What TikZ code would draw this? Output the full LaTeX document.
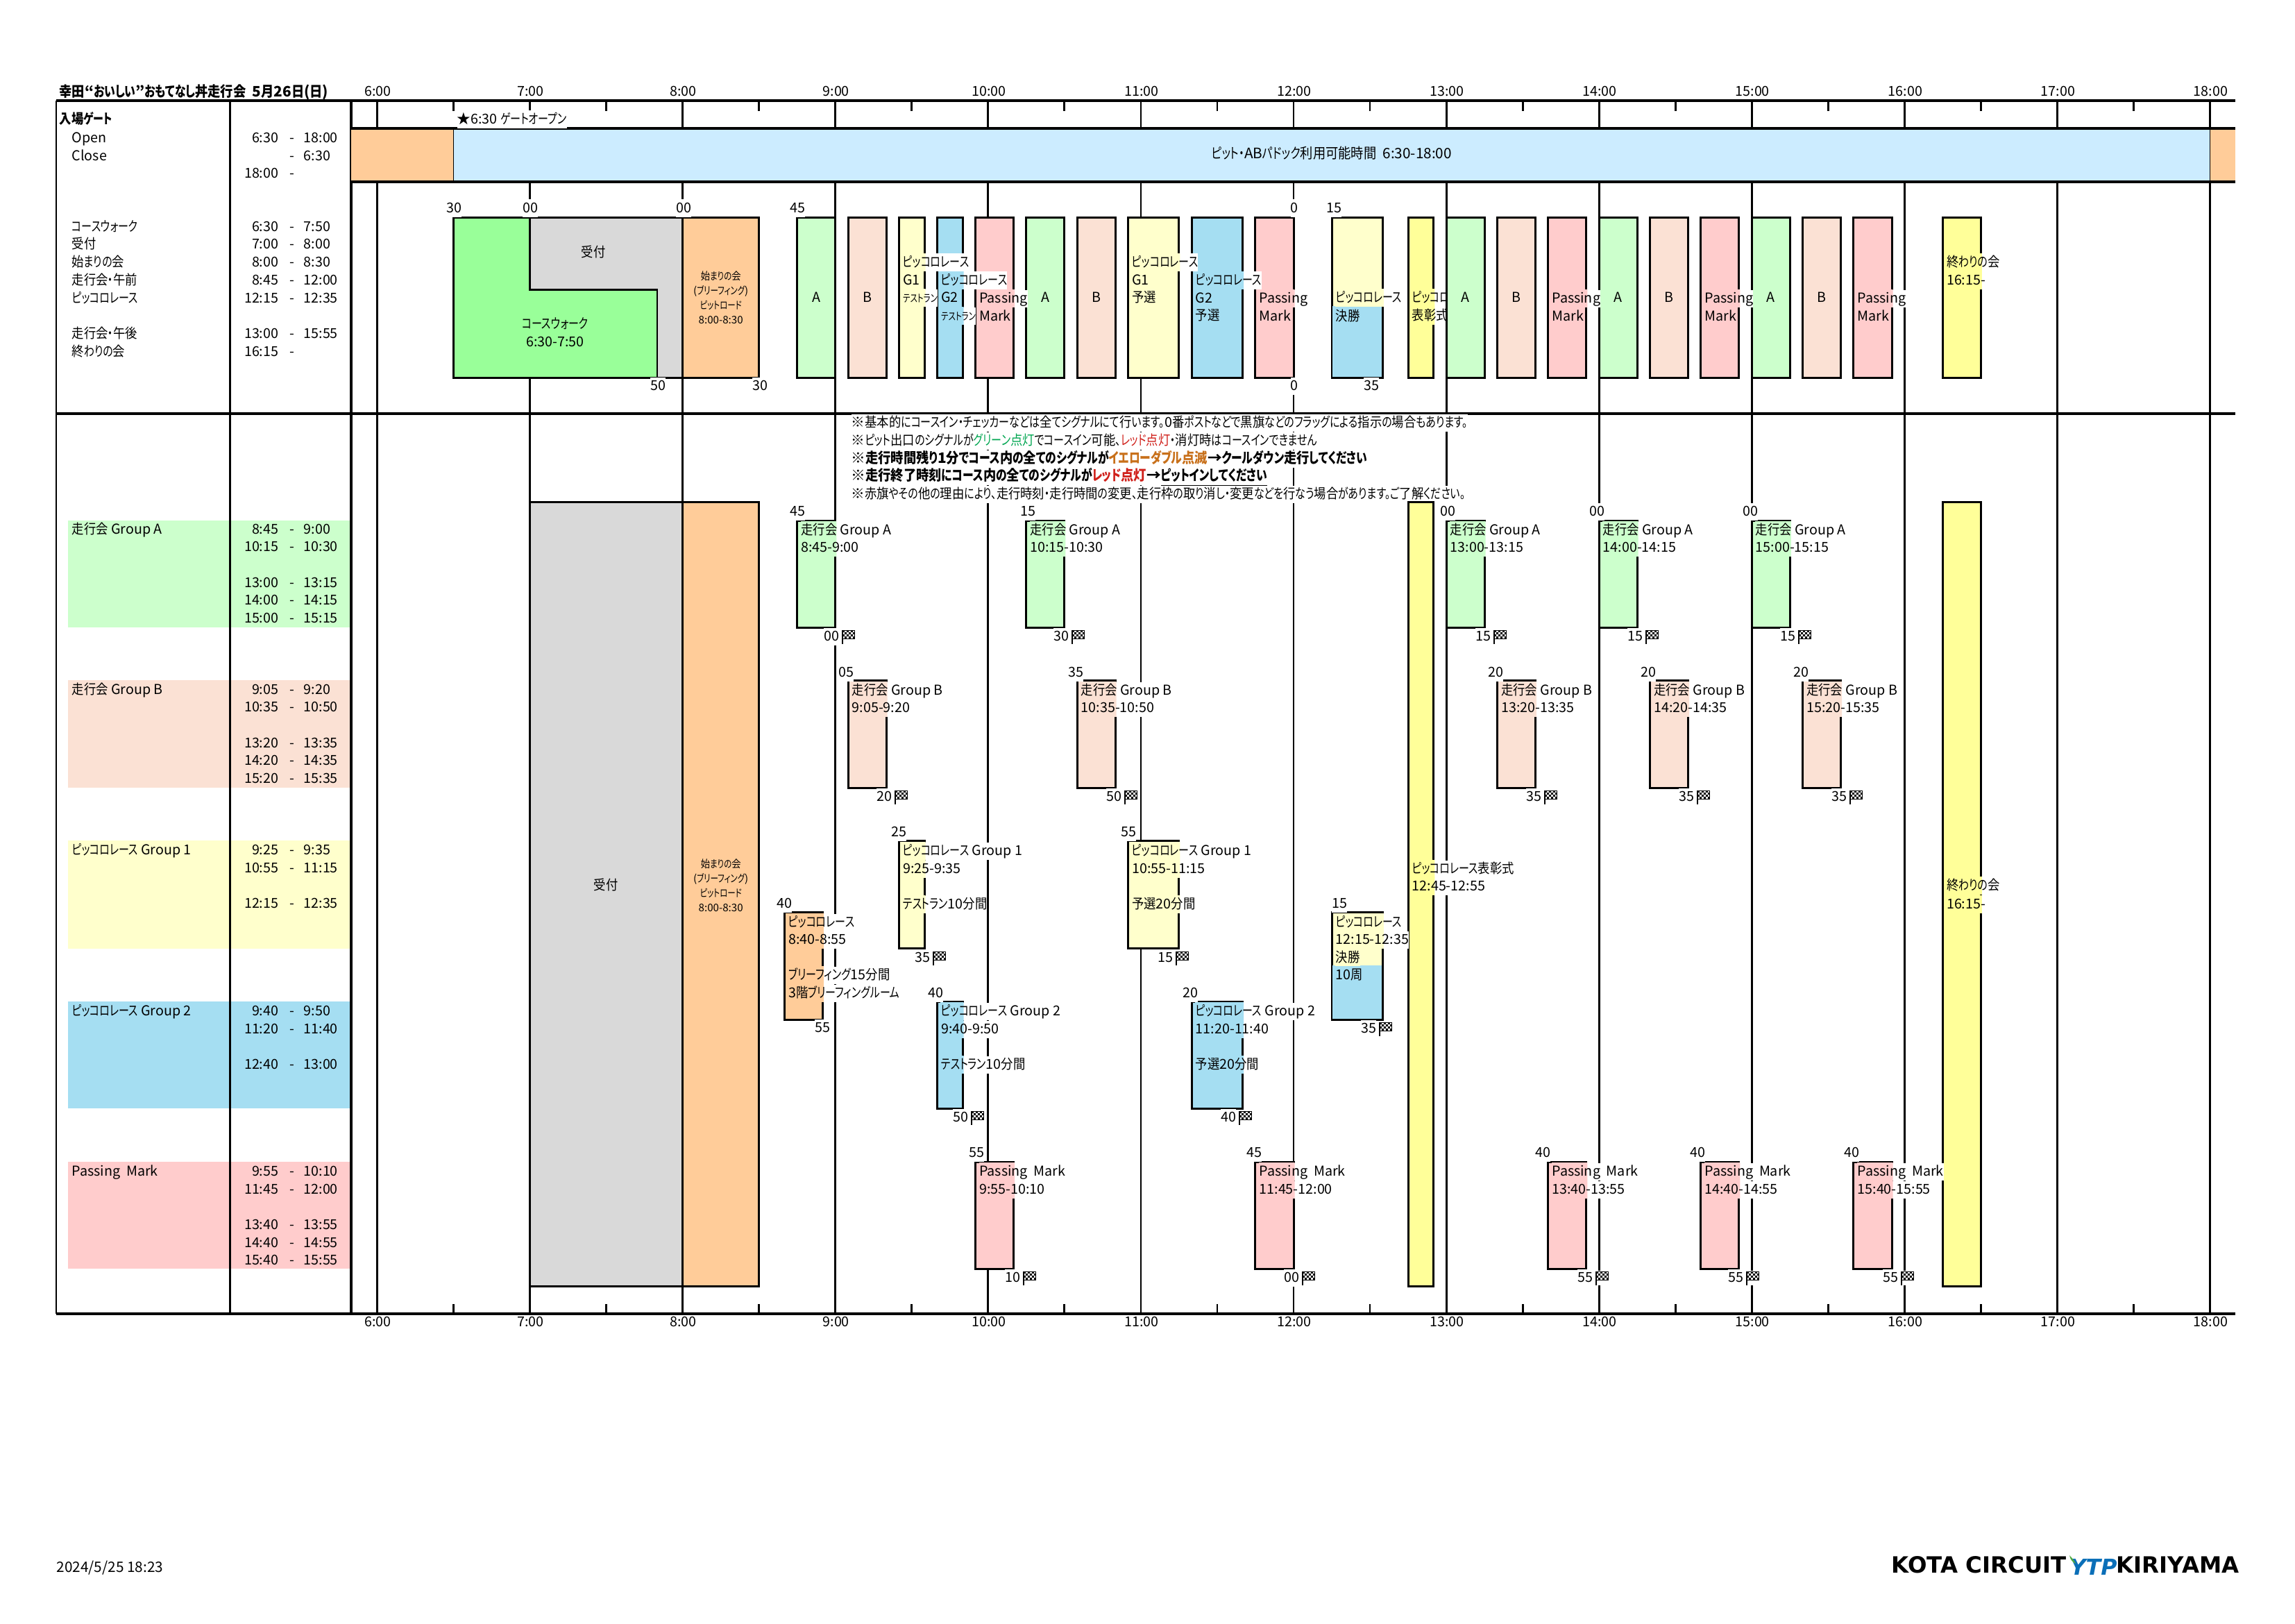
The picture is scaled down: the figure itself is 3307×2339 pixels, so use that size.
\documentclass[tikz,border=0pt]{standalone}
\usepackage{fontspec}
\setmainfont{Noto Sans CJK JP}[RawFeature={+palt}]
\newfontfamily\logofont{DejaVu Sans}
\newfontfamily\kanafont{Noto Sans CJK JP}[FakeStretch=0.76,RawFeature={+palt}]
\newfontfamily\kanjifont{Noto Sans CJK JP}[FakeStretch=0.88]
% kana and kanji are narrower than the digits and latin letters
\newXeTeXintercharclass\kanaclass
\newXeTeXintercharclass\kanjiclass
\newcount\chr
\chr="3040 \loop \XeTeXcharclass\chr=\kanaclass \ifnum\chr<"30FF \advance\chr 1 \repeat
\chr="4E00 \loop \XeTeXcharclass\chr=\kanjiclass \ifnum\chr<"9FFF \advance\chr 1 \repeat
\XeTeXcharclass"3001=\kanaclass
\XeTeXcharclass"3002=\kanaclass
\XeTeXinterchartoks 0 \kanaclass={\begingroup\kanafont}
\XeTeXinterchartoks 4095 \kanaclass={\begingroup\kanafont}
\XeTeXinterchartoks 0 \kanjiclass={\begingroup\kanjifont}
\XeTeXinterchartoks 4095 \kanjiclass={\begingroup\kanjifont}
\XeTeXinterchartoks \kanaclass 0={\endgroup}
\XeTeXinterchartoks \kanaclass 4095={\endgroup}
\XeTeXinterchartoks \kanjiclass 0={\endgroup}
\XeTeXinterchartoks \kanjiclass 4095={\endgroup}
\XeTeXinterchartoks \kanaclass \kanjiclass={\endgroup\begingroup\kanjifont}
\XeTeXinterchartoks \kanjiclass \kanaclass={\endgroup\begingroup\kanafont}
\XeTeXinterchartokenstate=1
\definecolor{grA}{HTML}{CCFFCC}
\definecolor{grB}{HTML}{FBE1D4}
\definecolor{grOne}{HTML}{FFFFCC}
\definecolor{grTwo}{HTML}{A5DEF2}
\definecolor{grPM}{HTML}{FFCCCC}
\definecolor{walkG}{HTML}{99FF99}
\definecolor{gateO}{HTML}{FFCC99}
\definecolor{gateB}{HTML}{CCECFF}
\definecolor{cerY}{HTML}{FFFF99}
\definecolor{recvG}{HTML}{D9D9D9}
\definecolor{sigG}{HTML}{00A651}
\definecolor{sigR}{HTML}{D0201A}
\definecolor{sigO}{HTML}{C8701A}
\definecolor{logoB}{HTML}{0B6FB8}
\definecolor{logoL}{HTML}{4FA843}
\newcommand{\tx}[1]{(543.5+3.668*(#1))}
\newcommand{\smallt}{\fontsize{4.3pt}{5pt}\selectfont}
% label whose background is white, and the block colour inside its block
\newcommand{\Tag}[5]{%
  \pgfmathsetmacro{\xa}{\tx{#1}}\pgfmathsetmacro{\xb}{\tx{#2}+1.5}\pgfmathsetmacro{\xt}{\xa+5}
  \node[tag, fill=white] (tg) at (\xt,#4) {\phantom{#5}};
  \begin{scope}
    \clip (\xa,0) rectangle (\xb,2339);
    \fill[#3] (tg.south west) rectangle (tg.north east);
  \end{scope}
  \node[tag] at (\xt,#4) {#5};
}
\tikzset{
  tag/.style={font=\fontsize{5.6pt}{6pt}\selectfont, anchor=west, inner xsep=0pt, inner ysep=0.03cm, text height=0.16cm, text depth=0.03cm},
  bigtag/.style={tag, font=\fontsize{5.9pt}{6pt}\selectfont},
  lab/.style={tag, anchor=center, fill=white},
  hourline/.style={line width=0.8pt},
  rule/.style={line width=1.1pt},
  block/.style={draw=black, line width=0.85pt},
  flagmark/.pic={
    \fill[white] (-16,-10) rectangle (20,11);
    \draw[line width=0.2pt] (0,-9) -- (0,10) -- (1.5,10) -- (1.5,-9) -- cycle;
    \foreach \i in {0,...,5} {
      \foreach \j in {0,...,3} {
        \pgfmathparse{int(mod(\i+\j,2))}
        \ifnum\pgfmathresult=0 \fill (1.5+2.8*\i,-9+3*\j) rectangle ++(2.8,3); \fi
      }
    }
    \draw[line width=0.2pt] (1.5,-9) rectangle (18.3,3);
  }
}
\begin{document}
\begin{tikzpicture}[x=0.01cm,y=-0.01cm]
  \useasboundingbox (0,0) rectangle (3307,2339);

  % Left panels of the five groups
  \foreach \ty/\yb/\col in {750/904/grA, 980/1135/grB, 1211/1367/grOne, 1443/1597/grTwo, 1674/1828/grPM} {
    \fill[\col] (98,\ty) rectangle (505,\yb);
  }

  % Hours and half hours
  \foreach \h in {0,...,12} {
    \pgfmathtruncatemacro{\hr}{\h+6}
    \draw[hourline] ({\tx{60*\h}},145) -- ({\tx{60*\h}},1893);
    \node[tag, anchor=center] (top\hr) at ({\tx{60*\h}+1},132) {\hr:00};
    \node[tag, anchor=center] (bot\hr) at ({\tx{60*\h}+1},1905) {\hr:00};
  }
  \foreach \h in {0,...,11} {
    \draw[hourline] ({\tx{60*\h+30}},145) -- ({\tx{60*\h+30}},160);
    \draw[hourline] ({\tx{60*\h+30}},1879) -- ({\tx{60*\h+30}},1893);
  }

  % Frame
  \draw[rule] (81,145) -- (3221,145);
  \draw[rule] (81,596) -- (3221,596);
  \draw[rule] (81,1893) -- (3221,1893);
  \draw[hourline] (81,145) -- (81,1893);
  \draw[line width=0.6pt] (331.5,145) -- (331.5,1893);
  \draw[rule] (506,145) -- (506,1893);

  % Gate bar
  \fill[gateO] (506,185) rectangle ({\tx{30}},262);
  \fill[gateB] ({\tx{30}},185) rectangle ({\tx{720}},262);
  \fill[gateO] ({\tx{720}},185) rectangle (3221,262);
  \draw[rule] (506,185) -- (3221,185);
  \draw[rule] (506,262) -- (3221,262);
  \draw[line width=0.5pt] ({\tx{30}},185) -- ({\tx{30}},262);
  \draw[line width=0.5pt] ({\tx{720}},185) -- ({\tx{720}},262);
  \node[bigtag, anchor=center] (gatetime) at (1919,222) {ピット・ABパドック利用可能時間~~6:30-18:00};
  \node[tag, fill=white] (gateopen) at (658,172) {★6:30 ゲートオープン};

  % Header table
  \node[bigtag] (title) at (85,133) {\bfseries 幸田“おいしい”おもてなし丼走行会~~5月26日(日)};
  \node[tag] (gatehead) at (85,172) {\bfseries 入場ゲート};
  \foreach \ty/\txt/\xs/\xe in {199/Open/6:30/18:00, 225/Close//6:30, 250//18:00/, 327/コースウォーク/6:30/7:50, 352/受付/7:00/8:00, 378/始まりの会/8:00/8:30, 404/走行会・午前/8:45/12:00, 430/ピッコロレース/12:15/12:35, 481/走行会・午後/13:00/15:55, 507/終わりの会/16:15/} {
    \node[tag] at (103,\ty) {\txt};
    \node[tag, anchor=east] at (402,\ty) {\xs};
    \node[tag, anchor=center] at (421,\ty) {-};
    \node[tag] at (437,\ty) {\xe};
  }

  % Group table
  \foreach \ty/\txt in {763/走行会 Group A, 994/走行会 Group B, 1225/ピッコロレース Group 1, 1457/ピッコロレース Group 2, 1688/Passing~~Mark} {
    \node[tag] at (103,\ty) {\txt};
  }
  \foreach \ty/\xs/\xe in {763/8:45/9:00, 788/10:15/10:30, 840/13:00/13:15, 865/14:00/14:15, 891/15:00/15:15,
    994/9:05/9:20, 1019/10:35/10:50, 1071/13:20/13:35, 1096/14:20/14:35, 1122/15:20/15:35,
    1225/9:25/9:35, 1251/10:55/11:15, 1302/12:15/12:35,
    1457/9:40/9:50, 1483/11:20/11:40, 1534/12:40/13:00,
    1688/9:55/10:10, 1714/11:45/12:00, 1765/13:40/13:55, 1791/14:40/14:55, 1816/15:40/15:55} {
    \node[tag, anchor=east] at (402,\ty) {\xs};
    \node[tag, anchor=center] at (421,\ty) {-};
    \node[tag] at (437,\ty) {\xe};
  }

  % Notes
  \node[tag, fill=white] (note1) at (1226,609) {※基本的にコースイン・チェッカーなどは全てシグナルにて行います。0番ポストなどで黒旗などのフラッグによる指示の場合もあります。};
  \node[tag, fill=white] (note2) at (1226,635) {※ピット出口のシグナルが\textcolor{sigG}{グリーン点灯}でコースイン可能、\textcolor{sigR}{レッド点灯}・消灯時はコースインできません};
  \node[bigtag, fill=white] (note3) at (1226,661) {\bfseries ※走行時間残り1分でコース内の全てのシグナルが\textcolor{sigO}{イエローダブル点滅}→クールダウン走行してください};
  \node[bigtag, fill=white] (note4) at (1226,686) {\bfseries ※走行終了時刻にコース内の全てのシグナルが\textcolor{sigR}{レッド点灯}→\underline{ピットインしてください}};
  \node[tag, fill=white] (note5) at (1226,712) {※赤旗やその他の理由により、走行時刻・走行時間の変更、走行枠の取り消し・変更などを行なう場合があります。ご了解ください。};

  % Morning overview
  \draw[block, fill=recvG] ({\tx{60}},313) rectangle ({\tx{120}},544);
  \draw[block, fill=walkG] ({\tx{30}},313) -- ({\tx{60}},313) -- ({\tx{60}},417) -- ({\tx{110}},417) -- ({\tx{110}},544) -- ({\tx{30}},544) -- cycle;
  \draw[block, fill=gateO] ({\tx{120}},313) rectangle ({\tx{150}},544);
  \node[tag, anchor=center] (recv) at (855,364) {受付};
  \node[tag, anchor=center] (walk1) at (800,467) {コースウォーク};
  \node[tag, anchor=center] (walk2) at (800,493) {6:30-7:50};

  % Big bars of the lower part
  \draw[block, fill=recvG] ({\tx{60}},723) rectangle ({\tx{120}},1853);
  \draw[block, fill=gateO] ({\tx{120}},723) rectangle ({\tx{150}},1853);
  \draw[block, fill=cerY] ({\tx{405}},723) rectangle ({\tx{415}},1853);
  \draw[block, fill=cerY] ({\tx{615}},723) rectangle ({\tx{630}},1853);
  \node[tag, anchor=center] (recvbig) at (873,1276) {受付};
  \foreach \ty/\txt in {397/始まりの会, 418/(ブリーフィング), 439/ピットロード, 460/8:00-8:30,
    1244/始まりの会, 1265/(ブリーフィング), 1286/ピットロード, 1307/8:00-8:30} {
    \node[tag, anchor=center] at ({\tx{135}},\ty) {\smallt\txt};
  }

  % Blocks before noon, both rows
  \foreach \xl/\xr/\col/\ty/\yb in {165/180/grA/313/544, 185/200/grB/313/544, 205/215/grOne/313/544, 220/230/grTwo/313/544, 235/250/grPM/313/544,
    255/270/grA/313/544, 275/290/grB/313/544, 295/315/grOne/313/544, 320/340/grTwo/313/544, 345/360/grPM/313/544,
    375/395/grOne/313/544, 405/415/cerY/313/544,
    165/180/grA/750/904, 255/270/grA/750/904, 185/200/grB/980/1135, 275/290/grB/980/1135,
    205/215/grOne/1211/1366, 295/315/grOne/1211/1366, 160/175/gateO/1314/1469, 375/395/grOne/1314/1469,
    220/230/grTwo/1443/1597, 320/340/grTwo/1443/1597, 235/250/grPM/1674/1828, 345/360/grPM/1674/1828} {
    \draw[block, fill=\col] ({\tx{\xl}},\ty) rectangle ({\tx{\xr}},\yb);
  }
  % Final: yellow above, blue below
  \fill[grTwo] ({\tx{375}+1},441) rectangle ({\tx{395}-1},543);
  \fill[grTwo] ({\tx{375}+1},1391) rectangle ({\tx{395}-1},1468);

  \foreach \xl/\xr/\col/\ty/\txt in {205/215/grOne/378/ピッコロレース, 205/215/grOne/404/G1, 205/215/grOne/429/{\smallt テストラン},
    220/230/grTwo/404/ピッコロレース, 220/230/grTwo/429/G2, 220/230/grTwo/455/{\smallt テストラン},
    235/250/grPM/430/Passing, 235/250/grPM/456/Mark,
    295/315/grOne/378/ピッコロレース, 295/315/grOne/404/G1, 295/315/grOne/429/予選,
    320/340/grTwo/404/ピッコロレース, 320/340/grTwo/430/G2, 320/340/grTwo/455/予選,
    345/360/grPM/430/Passing, 345/360/grPM/456/Mark,
    375/395/grOne/429/ピッコロレース, 375/395/grTwo/456/決勝,
    405/415/cerY/429/ピッコロレース, 405/415/cerY/455/表彰式,
    165/180/grA/764/走行会 Group A, 165/180/grA/789/8:45-9:00,
    255/270/grA/764/走行会 Group A, 255/270/grA/789/10:15-10:30,
    185/200/grB/995/走行会 Group B, 185/200/grB/1020/9:05-9:20,
    275/290/grB/995/走行会 Group B, 275/290/grB/1020/10:35-10:50,
    205/215/grOne/1226/ピッコロレース Group 1, 205/215/grOne/1252/9:25-9:35, 205/215/grOne/1303/テストラン10分間,
    295/315/grOne/1226/ピッコロレース Group 1, 295/315/grOne/1252/10:55-11:15, 295/315/grOne/1303/予選20分間,
    160/175/gateO/1329/ピッコロレース, 160/175/gateO/1354/8:40-8:55, 160/175/gateO/1405/ブリーフィング15分間, 160/175/gateO/1431/3階ブリーフィングルーム,
    375/395/grOne/1329/ピッコロレース, 375/395/grOne/1354/12:15-12:35, 375/395/grOne/1380/決勝, 375/395/grTwo/1405/10周,
    220/230/grTwo/1457/ピッコロレース Group 2, 220/230/grTwo/1483/9:40-9:50, 220/230/grTwo/1534/テストラン10分間,
    320/340/grTwo/1457/ピッコロレース Group 2, 320/340/grTwo/1483/11:20-11:40, 320/340/grTwo/1534/予選20分間,
    235/250/grPM/1688/Passing~~Mark, 235/250/grPM/1714/9:55-10:10,
    345/360/grPM/1688/Passing~~Mark, 345/360/grPM/1714/11:45-12:00,
    405/415/cerY/1252/ピッコロレース表彰式, 405/415/cerY/1277/12:45-12:55} {
    \Tag{\xl}{\xr}{\col}{\ty}{\txt}
  }

  % Afternoon blocks
  \foreach \xl/\xr/\col/\ty/\yb in {420/435/grA/313/544, 440/455/grB/313/544, 460/475/grPM/313/544,
    480/495/grA/313/544, 500/515/grB/313/544, 520/535/grPM/313/544,
    540/555/grA/313/544, 560/575/grB/313/544, 580/595/grPM/313/544, 615/630/cerY/313/544,
    420/435/grA/750/904, 480/495/grA/750/904, 540/555/grA/750/904,
    440/455/grB/980/1135, 500/515/grB/980/1135, 560/575/grB/980/1135,
    460/475/grPM/1674/1828, 520/535/grPM/1674/1828, 580/595/grPM/1674/1828} {
    \draw[block, fill=\col] ({\tx{\xl}},\ty) rectangle ({\tx{\xr}},\yb);
  }
  \foreach \xl/\xr/\col/\ty/\txt in {460/475/grPM/430/Passing, 460/475/grPM/456/Mark,
    520/535/grPM/430/Passing, 520/535/grPM/456/Mark,
    580/595/grPM/430/Passing, 580/595/grPM/456/Mark,
    615/630/cerY/378/終わりの会, 615/630/cerY/404/16:15-,
    420/435/grA/764/走行会 Group A, 420/435/grA/789/13:00-13:15,
    480/495/grA/764/走行会 Group A, 480/495/grA/789/14:00-14:15,
    540/555/grA/764/走行会 Group A, 540/555/grA/789/15:00-15:15,
    440/455/grB/995/走行会 Group B, 440/455/grB/1020/13:20-13:35,
    500/515/grB/995/走行会 Group B, 500/515/grB/1020/14:20-14:35,
    560/575/grB/995/走行会 Group B, 560/575/grB/1020/15:20-15:35,
    460/475/grPM/1688/Passing~~Mark, 460/475/grPM/1714/13:40-13:55,
    520/535/grPM/1688/Passing~~Mark, 520/535/grPM/1714/14:40-14:55,
    580/595/grPM/1688/Passing~~Mark, 580/595/grPM/1714/15:40-15:55,
    615/630/cerY/1276/終わりの会, 615/630/cerY/1303/16:15-} {
    \Tag{\xl}{\xr}{\col}{\ty}{\txt}
  }
  % A and B letters of the overview
  \foreach \xl/\txt in {165/A, 185/B, 255/A, 275/B, 420/A, 440/B, 480/A, 500/B, 540/A, 560/B} {
    \node[tag, anchor=center] at ({\tx{\xl+7.5}},429) {\txt};
  }

  % Minute labels
  \foreach \xl/\ty/\txt in {654/300/30, 764/300/00, 985/300/00, 1149/300/45, 1865/300/0, 1922/300/15,
    948/556/50, 1095/556/30, 1865/556/0, 1976/556/35,
    1149/737/45, 1481/737/15, 2086/737/00, 2301/737/00, 2522/737/00,
    1219/969/05, 1550/969/35, 2155/969/20, 2375/969/20, 2595/969/20,
    1295/1199/25, 1626/1199/55, 1130/1302/40, 1930/1302/15, 1185/1481/55,
    1348/1431/40, 1715/1431/20, 1407/1661/55, 1807/1661/45, 2223/1661/40, 2446/1661/40, 2668/1661/40} {
    \node[lab] at (\xl,\ty) {\txt};
  }

  % Chequered flags at the end of a session
  \foreach \xl/\ty/\txt in {1198/917/00, 1529/917/30, 2137/917/15, 2356/917/15, 2576/917/15,
    1274/1148/20, 1605/1148/50, 2210/1148/35, 2430/1148/35, 2650/1148/35,
    1329/1380/35, 1679/1380/15, 1972/1482/35, 1384/1610/50, 1770/1610/40,
    1459/1841/10, 1861/1841/00, 2284/1841/55, 2501/1841/55, 2724/1841/55} {
    \pic at ({\xl+15},\ty) {flagmark};
    \node[lab] at (\xl,\ty) {\txt};
  }

  % Footer
  \node[bigtag] (stamp) at (81,2259) {2024/5/25 18:23};
  \node[anchor=west, inner sep=0pt, font=\logofont\bfseries\fontsize{9.2pt}{10pt}\selectfont] (kota) at (2725,2255) {KOTA CIRCUIT};
  \node[anchor=west, inner sep=0pt, text=logoB, font=\logofont\bfseries\itshape\fontsize{9pt}{10pt}\selectfont] (ytp) at (2982,2258) {YTP};
  \fill[logoL] (2982,2241) .. controls (2986,2245) and (2989,2249) .. (2991,2253) .. controls (2986,2251) and (2983,2247) .. (2982,2241);
  \node[anchor=west, inner sep=0pt, font=\logofont\bfseries\fontsize{9.2pt}{10pt}\selectfont] (kiri) at (3049,2255) {KIRIYAMA};
\end{tikzpicture}
\end{document}
